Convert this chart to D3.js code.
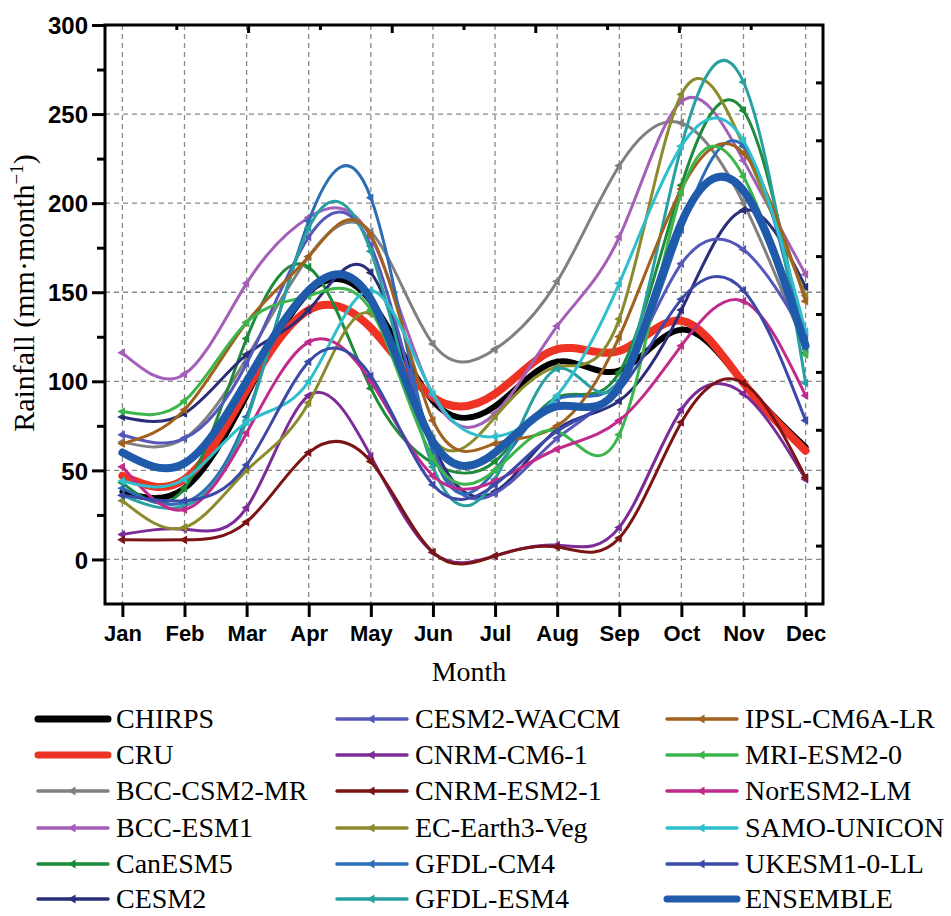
<!DOCTYPE html>
<html>
<head>
<meta charset="utf-8">
<script src="https://cdn.jsdelivr.net/npm/d3@7"></script>
<style>
  body { margin: 0; background: #fff; }
  svg { display: block; }
</style>
</head>
<body>
<svg width="951" height="916"></svg>
<script>
// monthly rainfall, mm/month
const months = ["Jan","Feb","Mar","Apr","May","Jun","Jul","Aug","Sep","Oct","Nov","Dec"];
const yTicks = [0, 50, 100, 150, 200, 250, 300];

const chirps      = [38, 40, 92, 150, 145, 89, 86, 111, 106, 129, 99, 63];
const cru         = [47, 45, 95, 140, 130, 91, 93, 118, 117, 134, 99, 61];
const bccCsm2Mr   = [66, 68, 113, 170, 184, 121, 118, 156, 221, 245, 200, 118];
const bccEsm1     = [116, 104, 155, 192, 181, 92, 82, 131, 181, 257, 224, 160];
const canEsm5     = [43, 40, 124, 164, 96, 54, 55, 91, 105, 210, 252, 116];
const cesm2       = [80, 82, 115, 140, 161, 65, 38, 73, 89, 140, 196, 153];
const cesm2Waccm  = [70, 68, 110, 181, 176, 62, 37, 68, 100, 166, 174, 125];
const cnrmCm6     = [14, 17, 29, 92, 58, 4, 2, 8, 18, 84, 93, 45];
const cnrmEsm2    = [11, 11, 21, 60, 55, 4, 2, 7, 12, 77, 99, 46];
const ecEarth3Veg = [33, 18, 50, 88, 138, 68, 80, 108, 135, 261, 232, 148];
const gfdlCm4     = [40, 32, 80, 190, 203, 60, 50, 90, 100, 185, 232, 118];
const gfdlEsm4    = [36, 30, 78, 186, 173, 52, 45, 107, 100, 232, 268, 99];
const ipslCm6aLr  = [65, 84, 133, 170, 182, 78, 65, 75, 125, 208, 228, 145];
const mriEsm2     = [83, 89, 133, 148, 140, 57, 50, 72, 70, 206, 215, 115];
const norEsm2Lm   = [52, 28, 71, 122, 100, 47, 44, 62, 78, 120, 145, 92];
const samoUnicon  = [44, 45, 77, 100, 151, 93, 69, 92, 155, 232, 235, 128];
const ukesm1      = [36, 33, 53, 111, 103, 42, 42, 72, 95, 146, 151, 78];
const ensemble    = [60, 54, 100, 151, 146, 66, 60, 86, 97, 189, 207, 120];

const series = [
  {name: "CHIRPS", values: chirps, color: "#000000", thick: 6},
  {name: "CRU", values: cru, color: "#ee3224", thick: 8},
  {name: "BCC-CSM2-MR", values: bccCsm2Mr, color: "#808080"},
  {name: "BCC-ESM1", values: bccEsm1, color: "#a45fb8"},
  {name: "CanESM5", values: canEsm5, color: "#1d8b3a"},
  {name: "CESM2", values: cesm2, color: "#2a2d78"},
  {name: "CESM2-WACCM", values: cesm2Waccm, color: "#5558b8"},
  {name: "CNRM-CM6-1", values: cnrmCm6, color: "#7b2c96"},
  {name: "CNRM-ESM2-1", values: cnrmEsm2, color: "#7b1414"},
  {name: "EC-Earth3-Veg", values: ecEarth3Veg, color: "#8b8b2e"},
  {name: "GFDL-CM4", values: gfdlCm4, color: "#2d6db5"},
  {name: "GFDL-ESM4", values: gfdlEsm4, color: "#28a0a0"},
  {name: "IPSL-CM6A-LR", values: ipslCm6aLr, color: "#a0621e"},
  {name: "MRI-ESM2-0", values: mriEsm2, color: "#3cb54a"},
  {name: "NorESM2-LM", values: norEsm2Lm, color: "#c02a8c"},
  {name: "SAMO-UNICON", values: samoUnicon, color: "#2fbfcc"},
  {name: "UKESM1-0-LL", values: ukesm1, color: "#3b4aa8"},
  {name: "ENSEMBLE", values: ensemble, color: "#1f5aab", thick: 8}
];

const pl = 105, pr = 823, pt = 25, pb = 604;

const svg = d3.select("svg");

const x = d3.scaleLinear().domain([-0.28, 11.28]).range([pl, pr]);
const y = d3.scaleLinear().domain([-25, 300]).range([pb, pt]);

// grid
const grid = svg.append("g")
  .attr("stroke", "#8a8a8a")
  .attr("stroke-width", 1.3)
  .attr("stroke-dasharray", "5,4");
grid.selectAll(".gx").data(months).enter().append("line")
  .attr("x1", (d, i) => x(i)).attr("x2", (d, i) => x(i))
  .attr("y1", pt).attr("y2", pb);
grid.selectAll(".gy").data(yTicks.filter(d => d < 300)).enter().append("line")
  .attr("x1", pl).attr("x2", pr)
  .attr("y1", d => y(d)).attr("y2", d => y(d));

// series lines
const line = d3.line()
  .x((d, i) => x(i))
  .y(d => y(d))
  .curve(d3.curveNatural);

const plot = svg.append("g");
series.forEach(s => {
  plot.append("path")
    .attr("d", line(s.values))
    .attr("fill", "none")
    .attr("stroke", s.color)
    .attr("stroke-width", s.thick || 3)
    .attr("stroke-linecap", "round");
  if (!s.thick) {
    plot.selectAll(null).data(s.values).enter().append("path")
      .attr("d", d3.symbol(d3.symbolTriangle, 34))
      .attr("transform", (d, i) => `translate(${x(i)},${y(d)}) rotate(-90)`)
      .attr("fill", s.color);
  }
});

// axes
const axisFont = "'Liberation Sans', Arial, sans-serif";

const yAxis = svg.append("g")
  .attr("transform", `translate(${pl},0)`)
  .call(d3.axisLeft(y).tickValues(d3.range(0, 301, 25)).tickSize(0).tickFormat(""));
yAxis.select(".domain").remove();
yAxis.selectAll(".tick line")
  .attr("x2", d => d % 50 === 0 ? -13 : -8)
  .attr("stroke", "#000").attr("stroke-width", 3);
yAxis.selectAll(".tick").filter(d => d % 50 === 0).append("text")
  .attr("x", -17).attr("dy", "0.36em")
  .attr("text-anchor", "end")
  .attr("fill", "#000")
  .style("font", `bold 24px ${axisFont}`)
  .text(d => d);

const xAxis = svg.append("g")
  .attr("transform", `translate(0,${pb})`)
  .call(d3.axisBottom(x).tickValues(d3.range(12)).tickSize(13).tickFormat(i => months[i]));
xAxis.select(".domain").remove();
xAxis.selectAll(".tick line").attr("stroke", "#000").attr("stroke-width", 3);
xAxis.selectAll(".tick text")
  .attr("y", 21)
  .attr("fill", "#000")
  .style("font", `bold 22px ${axisFont}`);

// mirrored top / right axes
const t = d3.scaleLinear().domain([0, 10]).range([pl, pr]);
const r = d3.scaleLinear().domain([0, 10]).range([pb, pt]);
svg.append("g").selectAll("line").data(d3.range(1, 10)).enter().append("line")
  .attr("x1", d => t(d)).attr("x2", d => t(d))
  .attr("y1", pt).attr("y2", d => pt + (d % 2 === 0 ? 8 : 5))
  .attr("stroke", "#000").attr("stroke-width", 3);
svg.append("g").selectAll("line").data(d3.range(1, 10)).enter().append("line")
  .attr("x1", pr).attr("x2", pr - 7)
  .attr("y1", d => r(d)).attr("y2", d => r(d))
  .attr("stroke", "#000").attr("stroke-width", 3);

svg.append("rect")
  .attr("x", pl).attr("y", pt)
  .attr("width", pr - pl).attr("height", pb - pt)
  .attr("fill", "none").attr("stroke", "#000").attr("stroke-width", 3);

// axis titles
const serif = "'Liberation Serif', 'Times New Roman', serif";
svg.append("text")
  .attr("x", (pl + pr) / 2 + 5).attr("y", 681)
  .attr("text-anchor", "middle")
  .style("font", `28px ${serif}`)
  .text("Month");

const yt = svg.append("text")
  .attr("transform", "translate(34,293) rotate(-90)")
  .attr("text-anchor", "middle")
  .style("font", `30px ${serif}`);
yt.append("tspan").text("Rainfall (mm\u00b7month");
yt.append("tspan").attr("dy", -11).style("font-size", "19px").text("\u22121");
yt.append("tspan").attr("dy", 11).text(")");

// legend
const colX = [38, 337, 667];
const rowY = [719, 755, 791, 828, 864, 899];
const legend = svg.append("g");
series.forEach((s, i) => {
  const cx = colX[Math.floor(i / 6)], cy = rowY[i % 6];
  const g = legend.append("g").attr("transform", `translate(${cx},${cy})`);
  g.append("line")
    .attr("x1", 0).attr("x2", 70)
    .attr("stroke", s.color)
    .attr("stroke-width", s.thick ? 7 : 3.5)
    .attr("stroke-linecap", "round");
  if (!s.thick) {
    g.append("path")
      .attr("d", d3.symbol(d3.symbolTriangle, 34))
      .attr("transform", "translate(35,0) rotate(-90)")
      .attr("fill", s.color);
  }
  g.append("text")
    .attr("x", 78).attr("y", 9)
    .style("font", `28px ${serif}`)
    .attr("fill", "#000")
    .text(s.name);
});
</script>
</body>
</html>
